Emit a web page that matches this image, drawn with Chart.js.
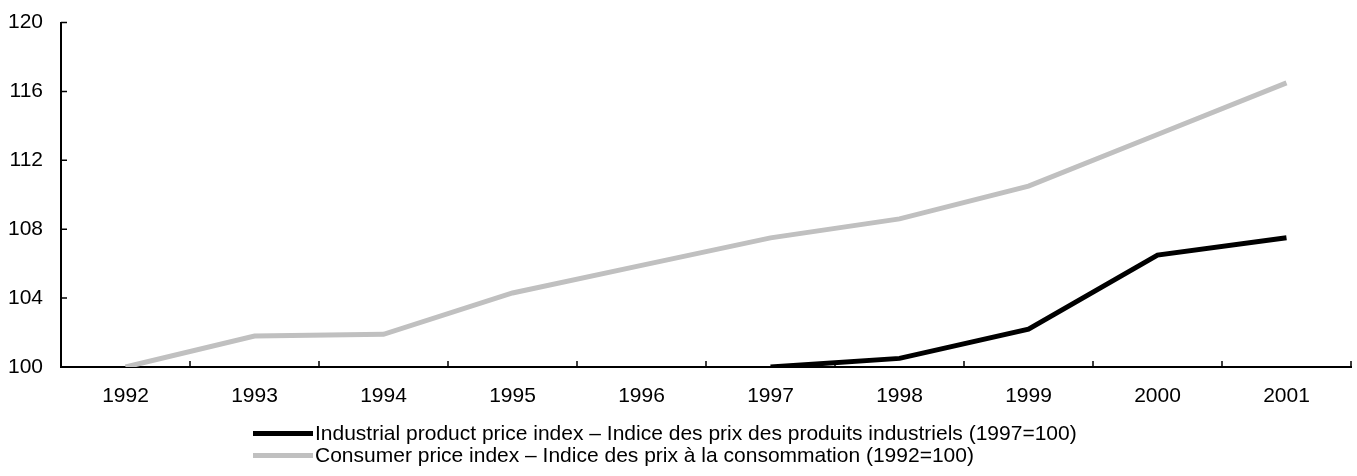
<!DOCTYPE html>
<html lang="en">
<head>
  <meta charset="UTF-8">
  <title>Price indices 1992-2001</title>
  <script src="https://cdn.jsdelivr.net/npm/chart.js"></script>
  <style>
    body {
      margin: 0;
      background: #fff;
      font-family: 'Liberation Sans', Arial, sans-serif;
    }

    .wrap {
      position: relative;
      width: 1357px;
      height: 476px;
    }

    .legend {
      position: absolute;
      left: 253px;
      top: 422px;
      font-size: 21px;
      color: #000;
    }

    .legend .row {
      display: flex;
      align-items: center;
      height: 22px;
      white-space: nowrap;
    }

    .legend .swatch {
      width: 60px;
      height: 5px;
      margin-right: 2px;
    }
  </style>
</head>
<body>
  <div class="wrap">
    <canvas id="chart" width="1357" height="476"></canvas>
    <div class="legend" id="legend"></div>
  </div>

  <script>
    const years = ['1992', '1993', '1994', '1995', '1996', '1997', '1998', '1999', '2000', '2001'];
    const industrial = [null, null, null, null, null, 100, 100.5, 102.2, 106.5, 107.5];
    const consumer = [100, 101.8, 101.9, 104.3, 105.9, 107.5, 108.6, 110.5, 113.5, 116.5];
    const yTicks = [100, 104, 108, 112, 116, 120];

    const seriesNames = [
      'Industrial product price index \u2013 Indice des prix des produits industriels (1997=100)',
      'Consumer price index \u2013 Indice des prix \u00e0 la consommation (1992=100)'
    ];
    const seriesColors = ['#000000', '#c0c0c0'];

    // small inward ticks on both axes
    const innerTicks = {
      id: 'innerTicks',
      afterDraw(chart) {
        const ctx = chart.ctx;
        const x = chart.scales.x;
        const y = chart.scales.y;
        ctx.save();
        ctx.strokeStyle = '#000';
        ctx.lineWidth = 1.5;
        ctx.beginPath();
        yTicks.forEach(v => {
          const py = y.getPixelForValue(v);
          ctx.moveTo(x.left, py);
          ctx.lineTo(x.left + 6, py);
        });
        for (let i = 0; i <= years.length; i++) {
          let px;
          if (i === 0) px = x.left;
          else if (i === years.length) px = x.right;
          else px = (x.getPixelForValue(i - 1) + x.getPixelForValue(i)) / 2;
          ctx.moveTo(px, y.bottom);
          ctx.lineTo(px, y.bottom - 6);
        }
        ctx.stroke();
        ctx.restore();
      }
    };

    new Chart(document.getElementById('chart'), {
      type: 'line',
      data: {
        labels: years,
        datasets: [
          {
            label: seriesNames[0],
            data: industrial,
            borderColor: seriesColors[0],
            borderWidth: 5,
            pointRadius: 0,
            tension: 0,
            spanGaps: false
          },
          {
            label: seriesNames[1],
            data: consumer,
            borderColor: seriesColors[1],
            borderWidth: 5,
            pointRadius: 0,
            tension: 0
          }
        ]
      },
      options: {
        responsive: false,
        animation: false,
        layout: { padding: { left: 0, right: 6, top: 10, bottom: 0 } },
        plugins: {
          legend: { display: false },
          tooltip: { enabled: false }
        },
        scales: {
          x: {
            offset: true,
            grid: { display: false },
            border: { display: true, color: '#000', width: 2 },
            ticks: {
              color: '#000',
              padding: 9,
              maxRotation: 0,
              font: { family: 'Liberation Sans', size: 21 }
            },
            afterFit(scale) { scale.height = 109; }
          },
          y: {
            min: 100,
            max: 120,
            grid: { display: false },
            border: { display: true, color: '#000', width: 2 },
            afterBuildTicks(scale) { scale.ticks = yTicks.map(v => ({ value: v })); },
            ticks: {
              color: '#000',
              padding: 10,
              font: { family: 'Liberation Sans', size: 21 }
            },
            afterFit(scale) { scale.width = 61; }
          }
        }
      },
      plugins: [innerTicks]
    });

    const legend = document.getElementById('legend');
    seriesNames.forEach((name, i) => {
      const row = document.createElement('div');
      row.className = 'row';
      row.innerHTML = '<span class="swatch" style="background:' + seriesColors[i] + '"></span><span>' + name + '</span>';
      legend.appendChild(row);
    });
  </script>
</body>
</html>
